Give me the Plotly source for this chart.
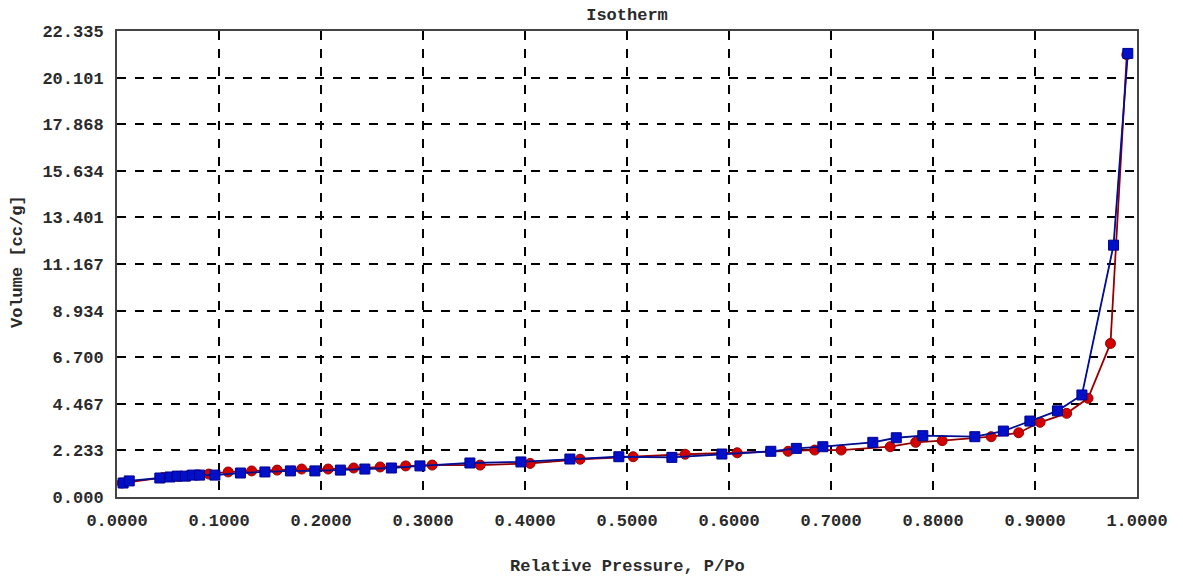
import plotly.graph_objects as go

# Adsorption (red circles)
ads_p = [0.005, 0.045, 0.060, 0.070, 0.080, 0.090, 0.109, 0.132, 0.157, 0.181, 0.207, 0.232,
         0.258, 0.283, 0.309, 0.356, 0.405, 0.454, 0.506, 0.557, 0.608, 0.658, 0.684,
         0.710, 0.758, 0.783, 0.809, 0.857, 0.884, 0.905, 0.931, 0.952, 0.974, 0.990]
ads_v = [0.67, 0.93, 0.99, 1.02, 1.06, 1.10, 1.20, 1.25, 1.29, 1.34, 1.34, 1.39,
         1.44, 1.49, 1.53, 1.53, 1.61, 1.81, 1.93, 2.05, 2.12, 2.19, 2.25,
         2.25, 2.41, 2.62, 2.70, 2.89, 3.08, 3.58, 4.01, 4.73, 7.36, 21.20]

# Desorption (blue squares)
des_p = [0.006, 0.012, 0.042, 0.052, 0.059, 0.067, 0.074, 0.081, 0.096, 0.121, 0.145, 0.170,
         0.194, 0.219, 0.243, 0.269, 0.297, 0.346, 0.396, 0.444, 0.492, 0.544, 0.593,
         0.641, 0.666, 0.692, 0.741, 0.764, 0.790, 0.841, 0.869, 0.895, 0.922, 0.946,
         0.977, 0.991]
des_v = [0.67, 0.77, 0.91, 0.96, 1.00, 1.00, 1.05, 1.05, 1.05, 1.15, 1.20, 1.25,
         1.25, 1.29, 1.34, 1.39, 1.49, 1.63, 1.68, 1.82, 1.93, 1.90, 2.06,
         2.19, 2.33, 2.41, 2.62, 2.84, 2.94, 2.89, 3.16, 3.64, 4.13, 4.89,
         12.07, 21.26]

x_ticks = [0.0, 0.1, 0.2, 0.3, 0.4, 0.5, 0.6, 0.7, 0.8, 0.9, 1.0]
x_labels = ["0.0000", "0.1000", "0.2000", "0.3000", "0.4000", "0.5000",
            "0.6000", "0.7000", "0.8000", "0.9000", "1.0000"]
y_ticks = [0.0, 2.2335, 4.467, 6.7005, 8.934, 11.1675, 13.401, 15.6345, 17.868, 20.1015, 22.335]
y_labels = ["0.000", "2.233", "4.467", "6.700", "8.934", "11.167", "13.401",
            "15.634", "17.868", "20.101", "22.335"]

FONT = "Liberation Mono"
TXT = "#2a2a2a"
FS = 17

fig = go.Figure()
for p, v, col, sym, edge in [(ads_p, ads_v, "#d00000", "circle", "#a00000"),
                             (des_p, des_v, "#0010c8", "square", "#000090")]:
    fig.add_trace(go.Scatter(x=p, y=v, mode="lines", line=dict(color=col, width=1.8),
                             showlegend=False, hoverinfo="skip"))
    fig.add_trace(go.Scatter(x=p, y=v, mode="lines", line=dict(color="#101010", width=0.5),
                             showlegend=False, hoverinfo="skip"))
    fig.add_trace(go.Scatter(x=p, y=v, mode="markers",
                             marker=dict(symbol=sym, size=10, color=col,
                                         line=dict(color=edge, width=1)),
                             showlegend=False))

fig.update_layout(
    width=1183, height=576,
    margin=dict(l=117, r=46, t=31, b=79),
    paper_bgcolor="white", plot_bgcolor="white",
    font=dict(family=FONT, size=FS, color=TXT),
    title=dict(text="<b>Isotherm</b>", x=(117 + 1137) / 2 / 1183, xanchor="center",
               y=1 - 14 / 576, yanchor="middle", font=dict(family=FONT, size=FS, color=TXT)),
    xaxis=dict(range=[0, 1], tickvals=x_ticks, ticktext=["<b>%s</b>" % t for t in x_labels],
               showgrid=True, gridcolor="#000000", griddash="dash", gridwidth=1.5,
               showline=True, linecolor="#444444", linewidth=2, mirror=True,
               ticks="outside", ticklen=7, tickcolor="rgba(0,0,0,0)",
               zeroline=False, tickfont=dict(family=FONT, size=FS, color=TXT)),
    yaxis=dict(range=[0, 22.335], tickvals=y_ticks, ticktext=["<b>%s</b>" % t for t in y_labels],
               showgrid=True, gridcolor="#000000", griddash="dash", gridwidth=1.5,
               showline=True, linecolor="#444444", linewidth=2, mirror=True,
               ticks="outside", ticklen=8, tickcolor="rgba(0,0,0,0)",
               zeroline=False, tickfont=dict(family=FONT, size=FS, color=TXT)),
    annotations=[
        dict(text="<b>Relative Pressure, P/Po</b>", xref="paper", yref="paper",
             x=0.5, y=(497 - 566) / 466, xanchor="center", yanchor="middle",
             showarrow=False, font=dict(family=FONT, size=FS, color=TXT)),
        dict(text="<b>Volume [cc/g]</b>", xref="paper", yref="paper",
             x=(17 - 117) / 1020, y=(497 - 262) / 466, xanchor="center", yanchor="middle",
             textangle=-90, showarrow=False, font=dict(family=FONT, size=FS, color=TXT)),
    ],
)

fig.write_html("out.html")
